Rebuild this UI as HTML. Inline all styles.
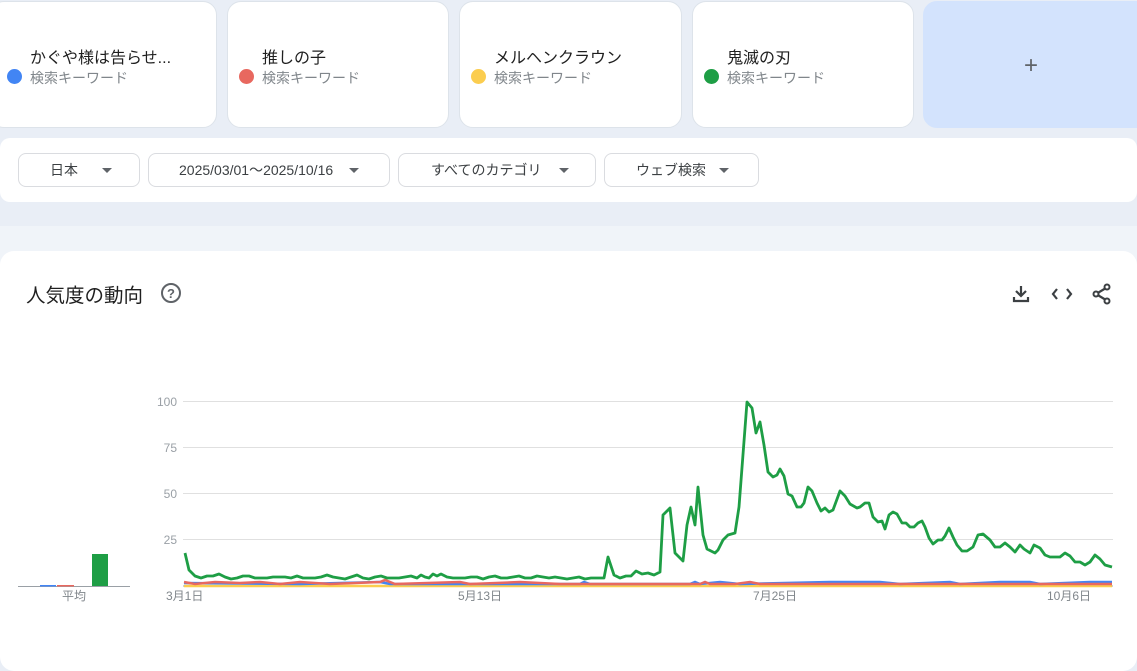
<!DOCTYPE html>
<html><head><meta charset="utf-8"><style>
body{margin:0;width:1137px;height:656px;background:#e9eef6;font-family:"Liberation Sans","Noto Sans CJK JP",sans-serif;position:relative;overflow:hidden}
.card{position:absolute;top:1px;height:127px;background:#fff;border-radius:14px;border:1px solid #dde3ea;box-sizing:border-box}
.card .t{position:absolute;left:34px;top:42px;font-size:16px;color:#1f1f1f}
.card .s{position:absolute;left:34px;top:66px;font-size:14px;color:#80868b}
.card .d{position:absolute;left:6px;top:67px;width:15px;height:15px;border-radius:50%}
.bar{position:absolute;left:0;top:138px;width:1137px;height:64px;background:#fff;border-radius:10px}
.btn{position:absolute;top:153px;height:34px;border:1px solid #dadce0;border-radius:8px;box-sizing:border-box;font-size:14px;color:#3c4043;line-height:32px}
.tri{display:inline-block;width:0;height:0;border-left:5px solid transparent;border-right:5px solid transparent;border-top:5px solid #5f6368;vertical-align:middle;position:absolute;top:14px}
.main{position:absolute;left:0;top:251px;width:1137px;height:420px;background:#fff;border-radius:14px}
</style></head><body>
<div style="position:absolute;left:0;top:226px;width:1137px;height:40px;background:#f0f4f9"></div>
<div class="card" style="left:-10px;width:227px"><div class="d" style="left:16px;background:#4285f4"></div><div class="t" style="left:39px">かぐや様は告らせ...</div><div class="s" style="left:39px">検索キーワード</div></div>
<div class="card" style="left:227px;width:222px"><div class="d" style="left:11px;background:#e8685f"></div><div class="t">推しの子</div><div class="s">検索キーワード</div></div>
<div class="card" style="left:459px;width:223px"><div class="d" style="left:11px;background:#fbcd4f"></div><div class="t">メルヘンクラウン</div><div class="s">検索キーワード</div></div>
<div class="card" style="left:692px;width:222px"><div class="d" style="left:11px;background:#1e9e45"></div><div class="t">鬼滅の刃</div><div class="s">検索キーワード</div></div>
<div class="card" style="left:923px;width:230px;background:#d3e3fd;border-color:#d3e3fd"><div style="position:absolute;left:100px;top:50px;font-size:24px;color:#5f6368">+</div></div>
<div class="bar"></div>
<div class="btn" style="left:18px;width:122px"><span style="position:absolute;left:31px">日本</span><span class="tri" style="left:83px"></span></div>
<div class="btn" style="left:148px;width:242px"><span style="position:absolute;left:30px">2025/03/01〜2025/10/16</span><span class="tri" style="left:200px"></span></div>
<div class="btn" style="left:398px;width:198px"><span style="position:absolute;left:32px">すべてのカテゴリ</span><span class="tri" style="left:160px"></span></div>
<div class="btn" style="left:604px;width:155px"><span style="position:absolute;left:31px">ウェブ検索</span><span class="tri" style="left:114px"></span></div>
<div class="main"></div>
<div style="position:absolute;left:26px;top:279px;font-size:19.5px;color:#1f1f1f">人気度の動向</div>
<svg style="position:absolute;left:0;top:0" width="1137" height="656">
<circle cx="171" cy="293" r="9" fill="none" stroke="#5f6368" stroke-width="2"/>
<text x="171" y="298" font-size="13" font-weight="bold" text-anchor="middle" fill="#5f6368" font-family="Liberation Sans">?</text>
<g stroke="#3c4043" stroke-width="2.2" fill="none">
<path d="M1021 286v10M1016 291l5 5 5-5M1014 297v4h14v-4"/>
<path d="M1057 289l-4 5 4 5M1067 289l4 5-4 5"/>
<path d="M1096 294l10-6M1096 294l10 6"/></g>
<g fill="#fff" stroke="#3c4043" stroke-width="2"><circle cx="1096" cy="294" r="2.5"/><circle cx="1107" cy="287" r="2.5"/><circle cx="1107" cy="301" r="2.5"/></g>
<g stroke="#e0e0e0" stroke-width="1"><line x1="183" x2="1113" y1="401.5" y2="401.5"/><line x1="183" x2="1113" y1="447.5" y2="447.5"/><line x1="183" x2="1113" y1="493.5" y2="493.5"/><line x1="183" x2="1113" y1="539.5" y2="539.5"/></g>
<g font-size="12" fill="#9aa0a6" text-anchor="end" font-family="Liberation Sans"><text x="177" y="406">100</text><text x="177" y="452">75</text><text x="177" y="498">50</text><text x="177" y="544">25</text></g>
<g font-size="12" fill="#80868b" font-family="Liberation Sans,Noto Sans CJK JP"><text x="166" y="600">3月1日</text><text x="458" y="600">5月13日</text><text x="753" y="600">7月25日</text><text x="1047" y="600">10月6日</text><text x="62" y="600">平均</text></g>
<line x1="18" x2="130" y1="586.5" y2="586.5" stroke="#9aa0a6"/>
<rect x="40" y="585" width="16" height="1.5" fill="#4285f4"/><rect x="57" y="585" width="17" height="1.5" fill="#e8685f"/>
<rect x="92" y="554" width="16" height="32" fill="#1e9e45"/>
<line x1="183" x2="1113" y1="586" y2="586" stroke="#9aa0a6"/>
<polyline fill="none" stroke="#fbcd4f" stroke-width="2.5" points="184,586 1112,586"/>
<polyline fill="none" stroke="#4285f4" stroke-width="2.5" points="184,583 300,584 380,582 390,584 580,584 584,582 590,584 690,584 695,582 700,584 720,582 740,584 830,582 880,582 900,584 950,582 960,584 1000,582 1030,582 1040,584 1090,582 1112,582"/>
<polyline fill="none" stroke="#e8685f" stroke-width="2.5" points="184,582 195,584 215,582 240,583 260,582 280,584 300,582 330,584 380,582 385,580 395,584 460,582 470,584 520,582 560,584 610,584 650,584 700,584 705,582 710,584 735,584 750,582 760,584 1112,584"/>
<polyline fill="none" stroke="#1e9e45" stroke-width="2.8" stroke-linejoin="round" points="185,553 189,570 195,576 201,578 207,576 213,576 219,574 225,577 231,579 237,578 243,576 249,576 255,578 261,578 267,578 273,577 279,577 285,577 291,578 297,576 303,578 309,578 315,578 321,577 327,575 333,577 339,578 345,579 351,577 357,575 363,578 369,579 375,577 381,576 387,578 393,578 399,578 405,577 411,576 417,578 421,575 425,577 429,578 433,574 437,576 441,574 447,577 453,578 459,578 465,578 471,577 477,577 483,579 489,577 495,576 501,578 507,578 513,577 519,576 525,578 531,578 537,576 543,577 549,578 555,577 561,578 567,579 573,578 579,577 585,579 591,578 597,578 604,578 608,557 614,575 620,578 626,576 631,576 636,571 642,574 648,573 654,575 660,572 663,515 670,508 675,553 683,561 687,525 691,507 695,525 698,487 703,535 707,549 715,553 718,550 723,540 728,535 735,533 739,507 747,402 752,408 756,433 760,422 764,445 768,472 773,477 777,475 780,469 784,476 788,494 792,496 797,507 801,507 804,503 808,487 812,491 817,503 821,511 825,508 829,512 833,510 840,491 845,496 850,504 857,508 860,507 865,503 869,503 873,517 878,522 882,521 885,529 889,515 893,512 897,514 902,523 906,523 910,527 914,527 918,523 922,521 925,527 929,538 933,544 938,540 942,540 945,536 949,528 953,537 957,545 962,551 967,551 973,547 978,535 983,534 990,540 995,547 1000,547 1005,543 1010,547 1015,552 1020,545 1024,549 1030,553 1034,545 1040,548 1045,555 1050,557 1060,557 1065,553 1070,556 1075,562 1080,562 1085,565 1090,562 1095,555 1100,559 1105,565 1112,567"/>
</svg>
</body></html>
